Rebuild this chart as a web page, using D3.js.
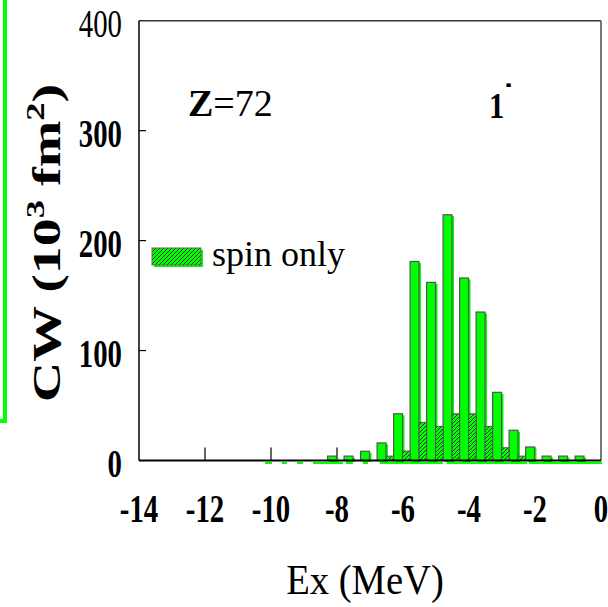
<!DOCTYPE html>
<html>
<head>
<meta charset="utf-8">
<script src="https://cdn.jsdelivr.net/npm/d3@7"></script>
<style>
  body { margin: 0; background: #fff; }
  svg { display: block; }
  text { font-family: "Liberation Serif", "Times New Roman", serif; fill: #000; }
</style>
</head>
<body>
<script>
// strength distribution, 0.5 MeV bins
var totalEx = [-8.15, -7.65, -7.15, -6.65, -6.15, -5.65, -5.15, -4.65, -4.15, -3.65, -3.15, -2.65, -2.15, -1.65, -1.15, -0.65];
var totalCW = [4, 4, 8.4, 16, 42.5, 181, 162, 223.5, 166, 135, 62, 27.5, 12.3, 4, 4, 4];

// spin only part, drawn next to the total bars
var spinEx = [-6.4, -5.9, -5.4, -4.9, -4.4, -3.9, -3.4, -2.9, -2.4];
var spinCW = [4, 8.6, 34.7, 31, 42.5, 42.5, 31, 11.6, 4];

// green shadow pieces along the base line (MeV)
var baseSegs = [[-10.18, -9.97], [-9.67, -9.52], [-9.21, -9.03], [-8.73, -7.82], [-7.73, -7.52],
  [-7.21, -7.06], [-6.7, -4.79], [-4.67, -2.24], [-2.18, 0.03]];

var xTicks = [-14, -12, -10, -8, -6, -4, -2, 0];
var yTicks = [0, 100, 200, 300, 400];

var width = 608, height = 607;
var green = "#00ff00";

var svg = d3.select("body").append("svg")
  .attr("width", width)
  .attr("height", height);

var x = d3.scaleLinear().domain([-14, 0]).range([139, 601]);
var y = d3.scaleLinear().domain([0, 400]).range([460.5, 20.7]);

// hatch pattern for spin only
var pat = svg.append("defs").append("pattern")
  .attr("id", "hatch")
  .attr("patternUnits", "userSpaceOnUse")
  .attr("width", 4)
  .attr("height", 4);
pat.append("rect").attr("width", 4).attr("height", 4).attr("fill", green);
pat.append("path")
  .attr("d", "M-1,1 l2,-2 M0,4 l4,-4 M3,5 l2,-2")
  .attr("stroke", "#222")
  .attr("stroke-width", 0.9);

// green side line at the left edge
svg.append("path")
  .attr("d", "M5,0 V421 H0")
  .attr("fill", "none")
  .attr("stroke", green)
  .attr("stroke-width", 4);

// green shadow under the axis
svg.selectAll(".baseseg")
  .data(baseSegs)
  .enter()
  .append("line")
  .attr("class", "baseseg")
  .attr("x1", function(d){ return x(d[0]); })
  .attr("x2", function(d){ return x(d[1]); })
  .attr("y1", y(0) + 2.5)
  .attr("y2", y(0) + 2.5)
  .attr("stroke", green)
  .attr("stroke-width", 2);

// x ticks (inside, pointing up)
svg.selectAll(".xtick")
  .data(xTicks.slice(1, -1))
  .enter()
  .append("line")
  .attr("class", "xtick")
  .attr("x1", function(d){ return x(d); })
  .attr("x2", function(d){ return x(d); })
  .attr("y1", y(0))
  .attr("y2", y(0) - 13)
  .attr("stroke", "#333")
  .attr("stroke-width", 1.5);

// y ticks (inside)
svg.selectAll(".ytick")
  .data(yTicks.slice(1, -1))
  .enter()
  .append("line")
  .attr("class", "ytick")
  .attr("x1", x(-14))
  .attr("x2", x(-14) + 7)
  .attr("y1", function(d){ return y(d); })
  .attr("y2", function(d){ return y(d); })
  .attr("stroke", "#000")
  .attr("stroke-width", 1.2);

var wTot = 0.27, wSpin = 0.23;

// total bars: green shadow then outlined bar
var bars = svg.selectAll(".tot")
  .data(totalEx)
  .enter()
  .append("g")
  .attr("class", "tot");
bars.append("rect")
  .attr("x", function(d){ return x(d - wTot / 2) + 2; })
  .attr("y", function(d, i){ return y(totalCW[i]) + 1.5; })
  .attr("width", x(wTot) - x(0))
  .attr("height", function(d, i){ return y(0) - y(totalCW[i]); })
  .attr("fill", green);
bars.append("rect")
  .attr("x", function(d){ return x(d - wTot / 2); })
  .attr("y", function(d, i){ return y(totalCW[i]); })
  .attr("width", x(wTot) - x(0))
  .attr("height", function(d, i){ return y(0) - y(totalCW[i]); })
  .attr("fill", green)
  .attr("stroke", "#555")
  .attr("stroke-width", 1.2);

// spin only bars
svg.selectAll(".spin")
  .data(spinEx)
  .enter()
  .append("rect")
  .attr("class", "spin")
  .attr("x", function(d){ return x(d - wSpin / 2); })
  .attr("y", function(d, i){ return y(spinCW[i]); })
  .attr("width", x(wSpin) - x(0))
  .attr("height", function(d, i){ return y(0) - y(spinCW[i]); })
  .attr("fill", "url(#hatch)")
  .attr("stroke", "#555")
  .attr("stroke-width", 1);

// frame
svg.append("line").attr("x1", x(-14)).attr("x2", x(0)).attr("y1", y(400)).attr("y2", y(400))
  .attr("stroke", "#333").attr("stroke-width", 1.5);
svg.append("line").attr("x1", x(0)).attr("x2", x(0)).attr("y1", y(400)).attr("y2", y(0))
  .attr("stroke", "#777").attr("stroke-width", 2);
svg.append("line").attr("x1", x(-14)).attr("x2", x(-14)).attr("y1", y(400)).attr("y2", y(0))
  .attr("stroke", "#000").attr("stroke-width", 1.5);
svg.append("line").attr("x1", x(-14)).attr("x2", x(0)).attr("y1", y(0)).attr("y2", y(0))
  .attr("stroke", "#000").attr("stroke-width", 2);

// tick labels
svg.selectAll(".ylab")
  .data(yTicks)
  .enter()
  .append("text")
  .attr("class", "ylab")
  .attr("transform", function(d){ return "translate(122," + (y(d) + 16) + ") scale(0.72,1)"; })
  .attr("text-anchor", "end")
  .style("font-size", "40px")
  .style("font-weight", d => d === 400 ? "normal" : "bold")
  .text(function(d){ return d; });

svg.selectAll(".xlab")
  .data(xTicks)
  .enter()
  .append("text")
  .attr("class", "xlab")
  .attr("transform", function(d){ return "translate(" + x(d) + ",522) scale(0.72,1)"; })
  .attr("text-anchor", "middle")
  .style("font-size", "40px")
  .style("font-weight", "bold")
  .text(function(d){ return d === 0 ? "0" : "-" + Math.abs(d); });

// axis titles
svg.append("text")
  .attr("transform", "translate(365,594) scale(0.92,1)")
  .attr("text-anchor", "middle")
  .style("font-size", "42px")
  .text("Ex (MeV)");

var yt = svg.append("text")
  .attr("transform", "translate(60,243) rotate(-90) scale(1.4,1)")
  .attr("text-anchor", "middle")
  .style("font-size", "40px")
  .style("font-weight", "bold");
yt.append("tspan").text("CW (10");
yt.append("tspan").attr("dy", -16).style("font-size", "26px").text("3");
yt.append("tspan").attr("dy", 16).text(" fm");
yt.append("tspan").attr("dy", -16).style("font-size", "26px").text("2");
yt.append("tspan").attr("dy", 16).text(")");

// labels inside the plot
var zt = svg.append("text")
  .attr("x", 188)
  .attr("y", 116)
  .style("font-size", "38px");
zt.append("tspan").style("font-weight", "bold").text("Z");
zt.append("tspan").text("=72");

svg.append("text")
  .attr("transform", "translate(489,118) scale(0.85,1)")
  .style("font-size", "36px")
  .style("font-weight", "bold")
  .text("1");
svg.append("text")
  .attr("transform", "translate(508.5,95) scale(0.4,1)")
  .attr("text-anchor", "middle")
  .style("font-size", "42px")
  .style("font-weight", "bold")
  .text("-");

// legend
svg.append("rect")
  .attr("x", 154).attr("y", 250)
  .attr("width", 49).attr("height", 17)
  .attr("fill", green);
svg.append("rect")
  .attr("x", 152).attr("y", 248)
  .attr("width", 49).attr("height", 17)
  .attr("fill", "url(#hatch)")
  .attr("stroke", "#666")
  .attr("stroke-width", 1);
svg.append("text")
  .attr("x", 212)
  .attr("y", 266)
  .style("font-size", "36px")
  .text("spin only");
</script>
</body>
</html>
